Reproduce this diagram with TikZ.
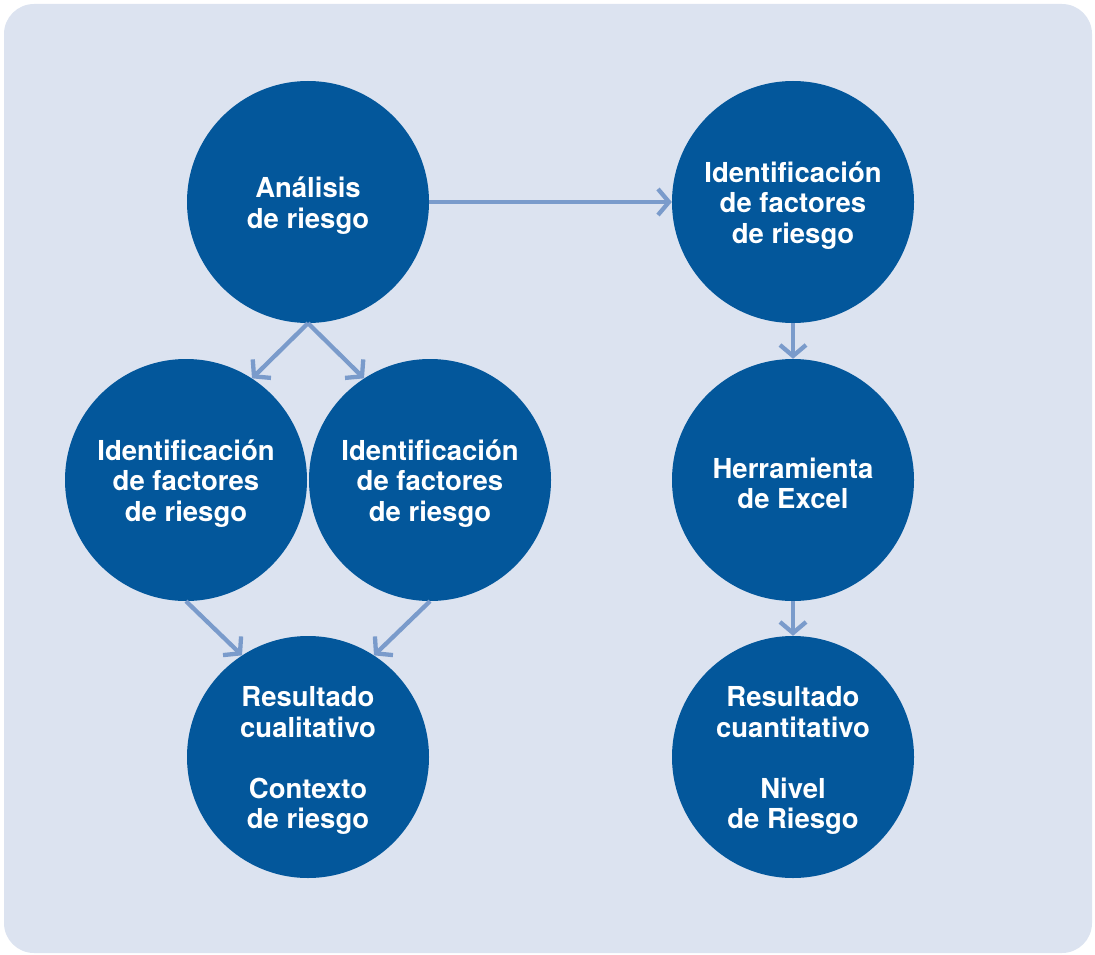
\documentclass[tikz,border=0pt]{standalone}
\usepackage{fontspec}
\setmainfont{TeX Gyre Heros}
\usetikzlibrary{arrows.meta}
\definecolor{bgblue}{HTML}{DCE3F0}
\definecolor{circblue}{HTML}{03579B}
\definecolor{arrblue}{HTML}{7A9BCB}
\begin{document}
\begin{tikzpicture}[x=1pt,y=-1pt,
  circ/.style={circle,fill=circblue,minimum size=242pt,inner sep=0pt},
  txt/.style={text=white,yshift=-3.5pt,inner sep=0pt,
    font=\fontsize{27.5}{30.5}\selectfont\bfseries,align=center},
  conn/.style={draw=arrblue,line width=4.3pt,-{Straight Barb[length=11pt,width=26pt,line cap=butt,line join=miter]}}]
\useasboundingbox (0,0) rectangle (1095,955);
\fill[bgblue,rounded corners=30pt] (4,4) rectangle (1092,953);
\node[circ,label={[txt]center:{Análisis\\de riesgo}}] (a) at (308,202) {};
\node[circ,label={[txt]center:{Identificación\\de factores\\de riesgo}}] (b) at (793,202) {};
\node[circ,label={[txt]center:{Identificación\\de factores\\de riesgo}}] (l) at (186,480) {};
\node[circ,label={[txt]center:{Identificación\\de factores\\de riesgo}}] (m) at (430,480) {};
\node[circ,label={[txt]center:{Herramienta\\de Excel}}] (h) at (793,480) {};
\node[circ,label={[txt]center:{Resultado\\cualitativo\\[30.5pt]Contexto\\de riesgo}}] (r) at (308,757) {};
\node[circ,label={[txt]center:{Resultado\\cuantitativo\\[30.5pt]Nivel\\de Riesgo}}] (q) at (793,757) {};
\draw[conn] (a.east) -- (b.west);
\draw[conn] (a.south) -- (l.57);
\draw[conn] (a.south) -- (m.123);
\draw[conn] (l.south) -- (r.123);
\draw[conn] (m.south) -- (r.57);
\draw[conn] (b.south) -- (h.north);
\draw[conn] (h.south) -- (q.north);
\end{tikzpicture}
\end{document}
